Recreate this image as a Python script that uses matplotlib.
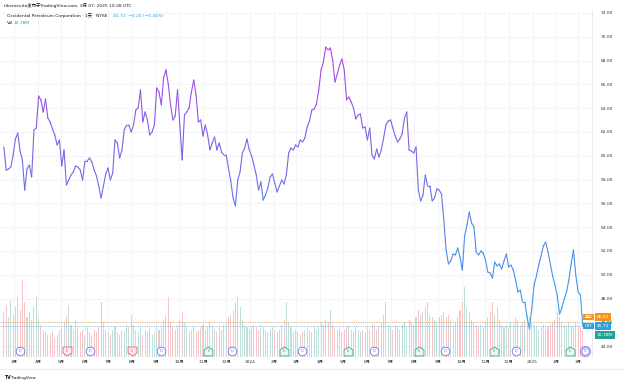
import numpy as np
import pandas as pd
import matplotlib
matplotlib.use("Agg")
import matplotlib.pyplot as plt
import matplotlib.dates as mdates
from matplotlib.collections import LineCollection
from matplotlib.colors import LinearSegmentedColormap, Normalize
from matplotlib.path import Path
from matplotlib.transforms import blended_transform_factory

plt.rcParams['font.family'] = ['DejaVu Sans', 'Noto Sans CJK SC']

# ---------------- data ----------------
start_date = "2023-02-16"
step = "3D"
close = [
    60.74, 58.80, 58.89, 59.06, 60.07, 61.41, 61.91, 60.40, 59.65, 57.12,
    58.89, 59.22, 58.22, 62.17, 62.33, 65.02, 64.69, 63.68, 64.77, 63.17,
    62.84, 62.25, 61.75, 60.91, 61.33, 59.14, 60.49, 57.54, 57.96, 58.38,
    58.64, 59.14, 59.06, 58.80, 57.96, 59.56, 59.56, 59.81, 59.48, 58.80,
    58.30, 57.46, 56.45, 57.46, 58.47, 58.97, 57.96, 58.55, 61.33, 61.07,
    59.81, 60.49, 62.17, 62.59, 62.59, 62.00, 62.59, 63.85, 64.02, 65.53,
    62.84, 63.68, 63.01, 61.75, 62.00, 62.59, 65.70, 65.36, 64.27, 66.54,
    67.21, 66.03, 64.27, 63.01, 63.34, 65.53, 62.59, 59.65, 63.43, 63.68,
    64.02, 65.36, 66.37, 65.11, 62.84, 63.01, 61.66, 62.59, 61.75, 60.49,
    61.07, 61.58, 60.49, 61.07, 60.32, 60.07, 60.07, 58.97, 57.88, 56.45,
    55.78, 57.96, 58.64, 60.23, 60.65, 61.41, 60.49, 59.98, 59.23, 58.38,
    57.12, 57.80, 56.28, 56.70, 57.29, 58.22, 58.47, 57.71, 56.96, 57.46,
    57.96, 57.63, 58.38, 60.23, 60.65, 60.49, 60.91, 60.74, 61.33, 61.16,
    61.49, 62.42, 62.92, 63.85, 63.93, 64.35, 65.53, 67.21, 67.88, 69.14,
    68.89, 69.06, 68.05, 66.20, 66.87, 67.63, 68.13, 67.21, 64.69, 64.94,
    64.52, 64.02, 63.09, 63.43, 63.51, 62.33, 62.42, 61.33, 62.33, 60.07,
    59.73, 60.57, 59.90, 60.49, 61.49, 62.59, 62.92, 63.01, 62.33, 61.66,
    61.16, 61.41, 61.83, 63.17, 63.68, 60.49, 60.40, 60.23, 60.74, 57.12,
    56.20, 56.70, 58.38, 57.46, 57.46, 56.20, 56.45, 57.21, 57.12, 56.79,
    54.60, 52.08, 50.91, 51.16, 51.75, 51.66, 52.25, 51.49, 50.40, 53.26,
    54.18, 55.27, 54.35, 54.01, 51.91, 51.66, 52.00, 51.83, 51.24, 50.23,
    50.15, 49.73, 51.07, 50.74, 50.91, 50.49, 51.16, 51.75, 50.65, 50.82,
    50.40, 49.56, 48.55, 48.72, 47.71, 47.71, 46.37, 45.44, 47.21, 49.14,
    49.90, 50.82, 51.58, 52.42, 52.75, 51.91, 50.91, 49.90, 49.14, 48.22,
    46.70, 47.21, 47.96, 48.55, 49.56, 50.91, 52.08, 49.98, 48.55, 48.30,
    45.71,
]
volume_m = [
    18, 21, 16, 23, 17, 20, 24, 19, 31, 22, 16, 18, 15, 20, 24, 16, 13,
    11, 10, 9, 9, 10, 8, 9, 11, 12, 14, 17, 21, 13, 11, 15, 12, 10, 11, 9, 12, 10, 9, 11, 10, 12,
    22, 14, 11, 10, 9, 11, 12, 10, 9, 11, 10, 13, 12, 17, 13, 11, 10, 12, 9, 11, 10, 12, 9, 10, 12, 11,
    13, 15, 17, 24, 14, 12, 11, 13, 15, 18, 14, 12, 10, 11, 12, 10, 11, 12, 13, 11, 12, 14, 13, 11, 10, 12, 11, 13,
    14, 16, 17, 19, 22, 24, 20, 15, 13, 12, 11, 12, 13, 12, 11, 13, 12, 11, 10, 11, 12, 11, 10, 11, 13, 15, 22,
    14, 12, 10, 11, 10, 9, 10, 11, 12, 11, 10, 12, 11, 12, 14, 13, 15, 14, 19, 13, 12, 11, 12, 10, 11, 12, 13, 11,
    10, 12, 11, 10, 11, 10, 12, 11, 13, 12, 11, 12, 14, 17, 22, 13, 12, 11, 13, 12, 11, 13, 14, 12, 15, 14, 13, 16,
    19, 17, 18, 20, 22, 17, 16, 15, 14, 16, 17, 18, 16, 17, 15, 13, 14, 16, 19, 22, 28, 20, 18, 15, 14,
    13, 12, 13, 12, 14, 16, 18, 22, 17, 20, 15, 13, 12, 13, 12, 14, 13, 16, 15, 13, 14, 15, 17, 16, 14, 13, 12,
    11, 12, 13, 11, 12, 13, 14, 15, 18, 16, 14, 13, 12, 14, 13, 12, 14, 13, 12, 10.78,
]
price_ticks = list(range(44, 73, 2))
dividend_dates = ["2023-03-09", "2023-06-08", "2023-09-08", "2023-12-08", "2024-03-08",
                  "2024-06-10", "2024-09-10", "2024-12-10"]
upcoming_dividend = "2025-03-10"
earnings_dates = ["2023-05-09", "2023-08-01", "2023-11-08", "2024-02-14", "2024-05-07",
                  "2024-08-07", "2024-11-12", "2025-02-18"]
earnings_beat = [False, False, True, True, True, True, True, True]
last_price = 45.71
premarket_price = 46.01
last_volume = "10.78M"

# ---------------- figure ----------------
W, H = 624, 384
fig = plt.figure(figsize=(W / 100, H / 100), dpi=100)
fig.patch.set_facecolor("white")

top_px, bot_px, right_px = 10, 357, 592
axv = fig.add_axes([0, 1 - bot_px / H, right_px / W, (bot_px - top_px) / H])
ax = fig.add_axes([0, 1 - bot_px / H, right_px / W, (bot_px - top_px) / H], sharex=axv)
ax.patch.set_visible(False)

dates = pd.date_range(start_date, periods=len(close), freq=step)
xnum = mdates.date2num(dates)
x0 = mdates.date2num(pd.Timestamp("2023-02-11"))
x1 = mdates.date2num(pd.Timestamp("2025-03-19"))
ax.set_xlim(x0, x1)
ax.set_ylim(43.09, 72.25)

# volume
vol_colors = []
for i in range(len(close)):
    up = i == 0 or close[i] >= close[i - 1]
    vol_colors.append("#bfe0d8" if up else "#f9c4c8")
axv.bar(xnum, volume_m, width=1.35, color=vol_colors, linewidth=0, align="center")
axv.set_ylim(0, 139)
axv.set_yticks([])
axv.tick_params(axis="x", length=0, labelbottom=False)
for s in axv.spines.values():
    s.set_visible(False)

# grid
month_starts = pd.date_range("2023-03-01", "2025-03-01", freq="MS")
for m in month_starts:
    axv.axvline(mdates.date2num(m), color="#f0f3fa", lw=0.6, zorder=0)
for p in price_ticks:
    axv.axhline((p - 43.09) / (72.25 - 43.09) * 139, color="#f0f3fa", lw=0.6, zorder=0)

# price line with vertical colour gradient
cmap = LinearSegmentedColormap.from_list(
    "tv", [(0.0, "#33a9e9"), (0.3, "#4b8ce7"), (0.6, "#7567e6"), (1.0, "#bb3fe2")])
norm = Normalize(44, 70)
pts = np.column_stack([xnum, close]).reshape(-1, 1, 2)
segs = np.concatenate([pts[:-1], pts[1:]], axis=1)
seg_vals = (np.array(close[:-1]) + np.array(close[1:])) / 2
lc = LineCollection(segs, cmap=cmap, norm=norm, linewidths=0.8, capstyle="round", joinstyle="round")
lc.set_array(seg_vals)
ax.add_collection(lc)

# price lines
ax.axhline(premarket_price, color="#f7a350", lw=0.6, ls=(0, (1.5, 1.2)), alpha=0.8)
ax.axhline(last_price, color="#63b6ec", lw=0.6, ls=(0, (1.5, 1.2)), alpha=0.8)

# axes styling
ax.yaxis.tick_right()
ax.set_yticks(price_ticks)
ax.set_yticklabels([f"{p:.2f}" for p in price_ticks])
ax.tick_params(axis="y", length=0, pad=6, labelsize=3.2, labelcolor="#333333")
ax.set_xticks(mdates.date2num(month_starts))
ax.set_xticklabels([str(m.year) if m.month == 1 else f"{m.month}月" for m in month_starts])
ax.tick_params(axis="x", length=0, pad=2.5, labelsize=3.1, labelcolor="#333333")
for s in ["top", "left"]:
    ax.spines[s].set_visible(False)
ax.spines["bottom"].set_visible(False)
ax.spines["right"].set_color("#e0e3eb")
ax.spines["right"].set_linewidth(0.5)

# event markers (dividends / earnings)
trans = blended_transform_factory(ax.transData, ax.transAxes)
ymark = 0.016
for d in dividend_dates:
    xd = mdates.date2num(pd.Timestamp(d))
    ax.plot([xd], [ymark], marker="o", ms=6.2, mfc="white", mec="#6675ee", mew=0.6,
            transform=trans, clip_on=False, zorder=5)
    ax.text(xd, ymark, "D", transform=trans, ha="center", va="center", fontsize=2.6,
            color="#6675ee", zorder=6, clip_on=False)
xd = mdates.date2num(pd.Timestamp(upcoming_dividend))
ax.plot([xd], [ymark], marker="o", ms=7.4, mfc="white", mec="#8c7df0", mew=0.6,
        transform=trans, clip_on=False, zorder=5)
ax.plot([xd], [ymark], marker="o", ms=5.4, mfc="white", mec="#6675ee", mew=0.6,
        transform=trans, clip_on=False, zorder=5)
ax.text(xd, ymark, "D", transform=trans, ha="center", va="center", fontsize=2.4,
        color="#6675ee", zorder=6, clip_on=False)

house_up = Path([(-1, -1), (1, -1), (1, 0.35), (0, 1), (-1, 0.35), (-1, -1)],
                [Path.MOVETO] + [Path.LINETO] * 4 + [Path.CLOSEPOLY])
house_dn = Path([(-1, 1), (1, 1), (1, -0.35), (0, -1), (-1, -0.35), (-1, 1)],
                [Path.MOVETO] + [Path.LINETO] * 4 + [Path.CLOSEPOLY])
for d, beat in zip(earnings_dates, earnings_beat):
    xe = mdates.date2num(pd.Timestamp(d))
    col = "#3fa387" if beat else "#ef5d6c"
    fc = "#eaf6f2" if beat else "#fdecee"
    ax.plot([xe], [ymark], marker=house_up if beat else house_dn, ms=6.4, mfc=fc, mec=col,
            mew=0.6, transform=trans, clip_on=False, zorder=5)
    ax.text(xe, ymark, "E", transform=trans, ha="center", va="center", fontsize=2.5,
            color=col, zorder=6, clip_on=False)

# right-scale labels
def tag(xpx, ypx, text, color, ha="left", size=3.2):
    fig.text(xpx / W, 1 - ypx / H, text, fontsize=size, color="white", ha=ha, va="center",
             bbox=dict(boxstyle="square,pad=0.35", fc=color, ec="none"))

tag(584.5, 317, "盘前", "#f7931a", size=2.8)
tag(597, 317, f"{premarket_price:.2f}", "#f7931a")
tag(584.5, 326, "OXY", "#2ea2de", size=2.8)
tag(597, 326, f"{last_price:.2f}", "#2ea2de")
tag(597, 335, last_volume, "#1fa394")

# header texts
fig.text(4 / W, 1 - 5 / H, "tikemevita发布于TradingView.com, 3月 07, 2025 10:28 UTC",
         fontsize=3.2, color="#131722", va="center")
fig.text(7 / W, 1 - 16 / H, "Occidental Petroleum Corporation · 1天 · NYSE",
         fontsize=3.2, color="#131722", va="center")
fig.text(113 / W, 1 - 16 / H, "45.71  −0.20 (−0.44%)", fontsize=3.2, color="#2e9bd6", va="center")
fig.text(7 / W, 1 - 23.5 / H, "Vol", fontsize=3.2, color="#131722", va="center")
fig.text(14 / W, 1 - 23.5 / H, last_volume, fontsize=3.2, color="#1fa394", va="center")

# frame lines and footer
fig.add_artist(plt.Line2D([0, 1], [1 - 369 / H, 1 - 369 / H], transform=fig.transFigure,
                          color="#e0e3eb", lw=0.5))
fig.text(4 / W, 1 - 377.5 / H, "TV", fontsize=3.4, fontweight="bold", color="#131722", va="center")
fig.text(11 / W, 1 - 377.5 / H, "TradingView", fontsize=3.1, color="#131722", va="center")

fig.savefig("out.png", dpi=100, facecolor="white")
